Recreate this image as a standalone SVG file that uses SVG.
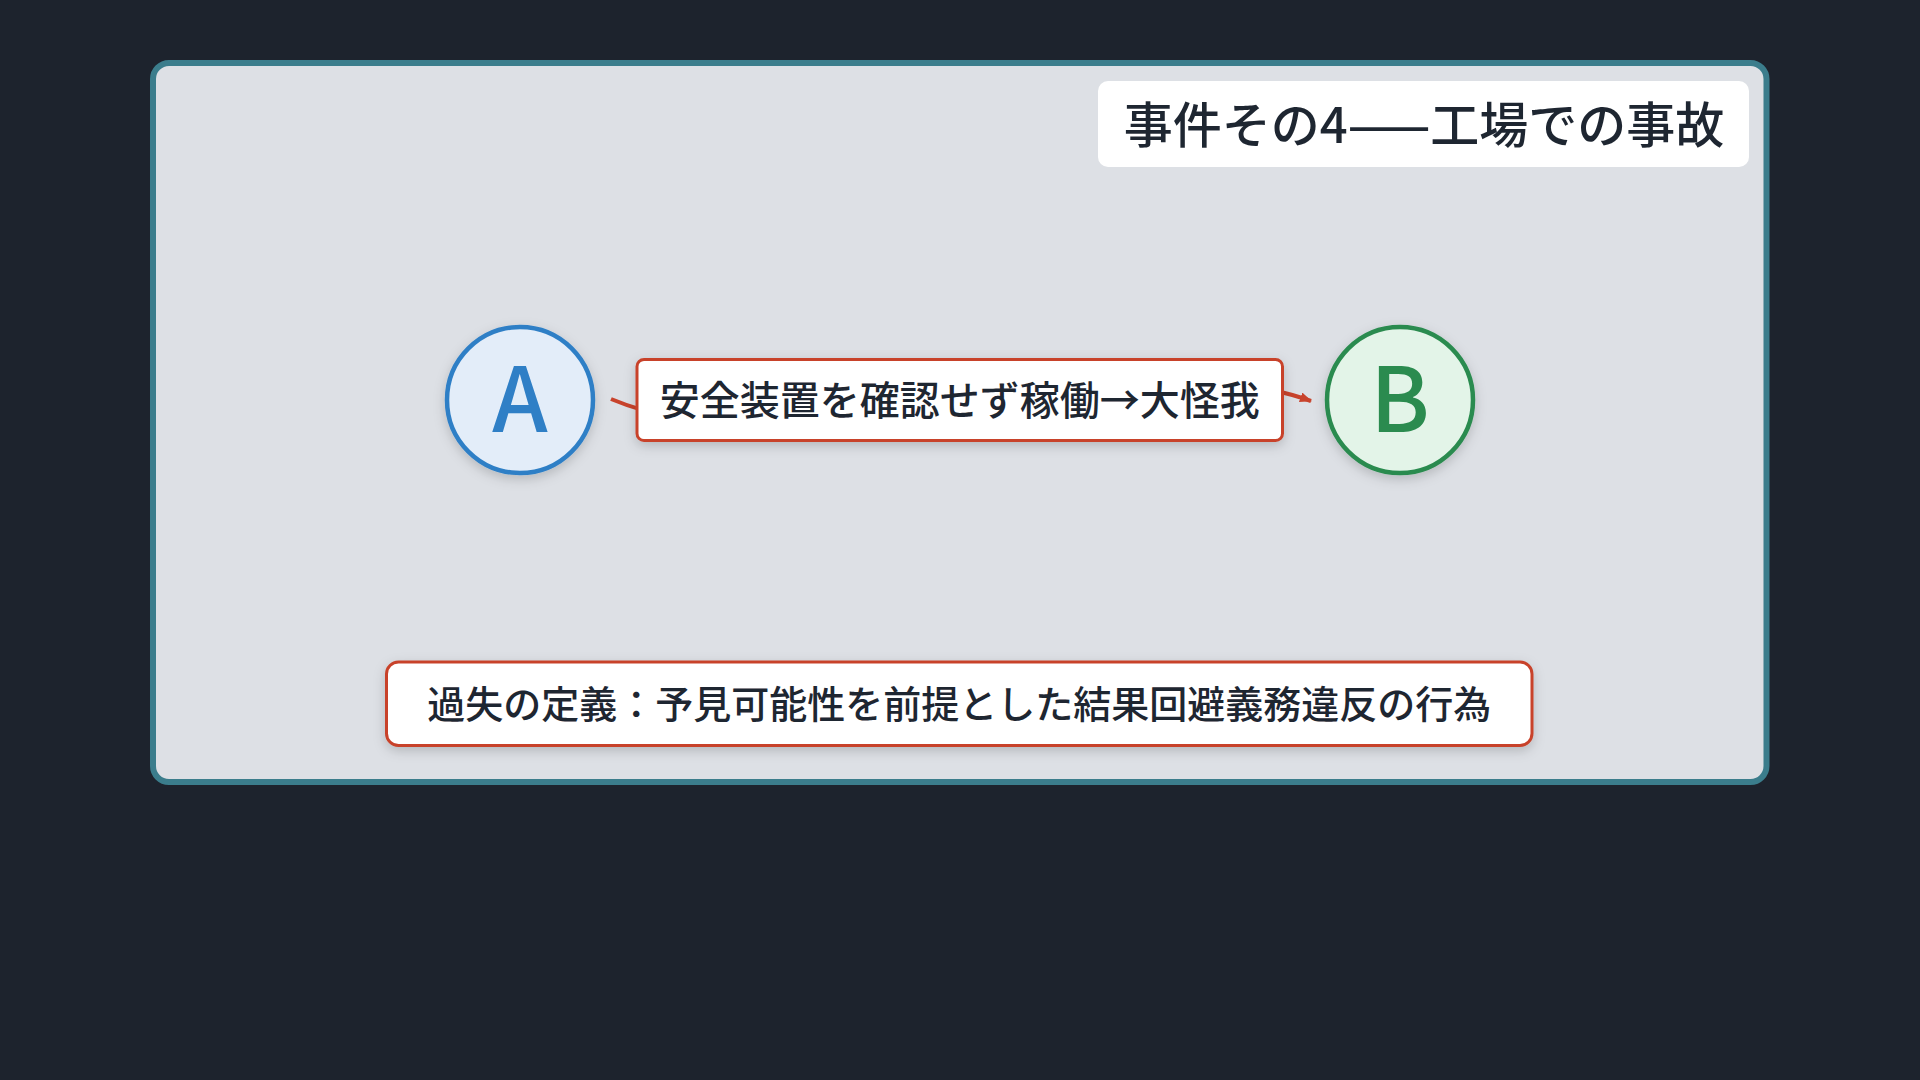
<svg xmlns="http://www.w3.org/2000/svg" width="1920" height="1080" viewBox="0 0 1920 1080">
  <defs>
    <style>
      .txt { font-family: "Noto Sans CJK JP", "Noto Sans", "Liberation Sans", sans-serif; fill: #1e2631; font-weight: 500; }
      .box { fill: #ffffff; stroke: #c8432c; stroke-width: 3; }
      .conn { fill: none; stroke: #c8432c; stroke-width: 4; stroke-linecap: butt; }
      .letter { font-family: "Noto Sans CJK JP", "Noto Sans", "Liberation Sans", sans-serif; font-size: 89px; font-weight: 500; text-anchor: middle; }
    </style>
    <filter id="shadow" x="-20%" y="-30%" width="140%" height="160%">
      <feDropShadow dx="0" dy="4" stdDeviation="6" flood-color="#000000" flood-opacity="0.18"/>
    </filter>
    <marker id="arrow" viewBox="0 0 12 10" refX="11" refY="5" markerWidth="12" markerHeight="10" markerUnits="userSpaceOnUse" orient="auto">
      <path d="M0,0 L12,5 L0,10 z" fill="#c8432c"/>
    </marker>
  </defs>

  <rect x="0" y="0" width="1920" height="1080" fill="#1d232d"/>

  <g id="panel">
    <rect x="153" y="63" width="1613.5" height="719" rx="16" ry="16" fill="#dde0e5" stroke="#3b7d8c" stroke-width="6"/>
  </g>

  <g id="title">
    <rect x="1098" y="81" width="651" height="86" rx="10" ry="10" fill="#ffffff"/>
    <text class="txt" x="1424" y="142.5" font-size="49" text-anchor="middle">事件その4——工場での事故</text>
  </g>

  <g id="connectors">
    <path class="conn" d="M611,399 C811,483 1111,329 1311,401" marker-end="url(#arrow)"/>
  </g>

  <g id="node-A">
    <circle cx="520" cy="400" r="73" fill="#e3edf9" stroke="#2f7fc6" stroke-width="4.5" filter="url(#shadow)"/>
    <text class="letter" x="520" y="432" fill="#2f7fc6">A</text>
  </g>

  <g id="node-B">
    <circle cx="1400" cy="400" r="73" fill="#e3f4e8" stroke="#2b8b4f" stroke-width="4.5" filter="url(#shadow)"/>
    <text class="letter" x="1400" y="432" fill="#2b8b4f">B</text>
  </g>

  <g id="edge-label">
    <rect class="box" x="637" y="359.5" width="645.5" height="81" rx="7" ry="7" filter="url(#shadow)"/>
    <text class="txt" x="959.75" y="415" font-size="40" text-anchor="middle">安全装置を確認せず稼働→大怪我</text>
  </g>

  <g id="definition">
    <rect class="box" x="386.5" y="662" width="1145.5" height="83.5" rx="12" ry="12" filter="url(#shadow)"/>
    <text class="txt" x="959.25" y="717.5" font-size="38" text-anchor="middle">過失の定義：予見可能性を前提とした結果回避義務違反の行為</text>
  </g>
</svg>
